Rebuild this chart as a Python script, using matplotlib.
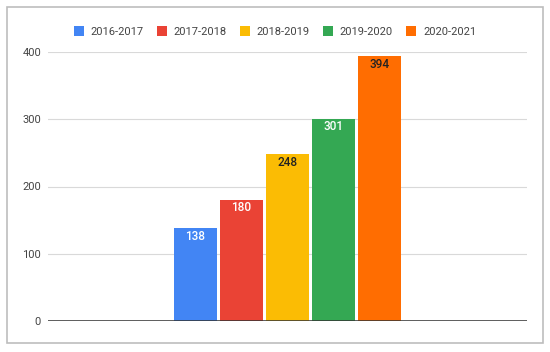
import matplotlib.pyplot as plt
from matplotlib.patches import Rectangle, Patch

# data
seasons = ['2016-2017', '2017-2018', '2018-2019', '2019-2020', '2020-2021']
counts = [138, 180, 248, 301, 394]
colors = ['#4285F4', '#EA4335', '#FBBC04', '#34A853', '#FF6D01']
label_colors = ['white', 'white', '#222222', 'white', '#222222']

plt.rcParams['font.family'] = ['Roboto', 'DejaVu Sans']

W, H = 550, 352
fig = plt.figure(figsize=(W / 100, H / 100), dpi=100)
ax = fig.add_axes([48 / W, 31 / H, (527 - 48) / W, (300 - 31) / H])

# bars
x = list(range(len(counts)))
ax.bar(x, counts, width=0.956, color=colors, edgecolor='none', zorder=3)
for xi, v, lc in zip(x, counts, label_colors):
    ax.annotate(str(v), (xi, v), xytext=(0, -8), textcoords='offset pixels',
                ha='center', va='center', fontsize=8.5, color=lc,
                fontweight='medium', zorder=4)

half = (527 - 48) / 46 / 2
ax.set_xlim(2 - half, 2 + half)
ax.set_ylim(0, 400)
ax.set_yticks([0, 100, 200, 300, 400])
ax.set_xticks([])
ax.tick_params(axis='y', length=0, pad=5, labelsize=8, labelcolor='#444444')
ax.grid(axis='y', color='#d9d9d9', linewidth=0.8, zorder=0)
for s in ax.spines.values():
    s.set_visible(False)
ax.axhline(0, color='#333333', linewidth=1.1, zorder=5)

# legend
handles = [Patch(facecolor=c, edgecolor='none') for c in colors]
fig.legend(handles, seasons, loc='center', bbox_to_anchor=(0.5, 1 - 31.5 / H),
           ncol=5, frameon=False, fontsize=8, handlelength=0.9, handleheight=0.9,
           handletextpad=0.6, columnspacing=1.2, labelcolor='#444444')

# outer border
fig.patches.append(Rectangle((7 / W, 9 / H), (543 - 7) / W, (343 - 7) / H,
                             transform=fig.transFigure, fill=False,
                             edgecolor='#bdbdbd', linewidth=1.2))

fig.savefig('out.png', dpi=100)
